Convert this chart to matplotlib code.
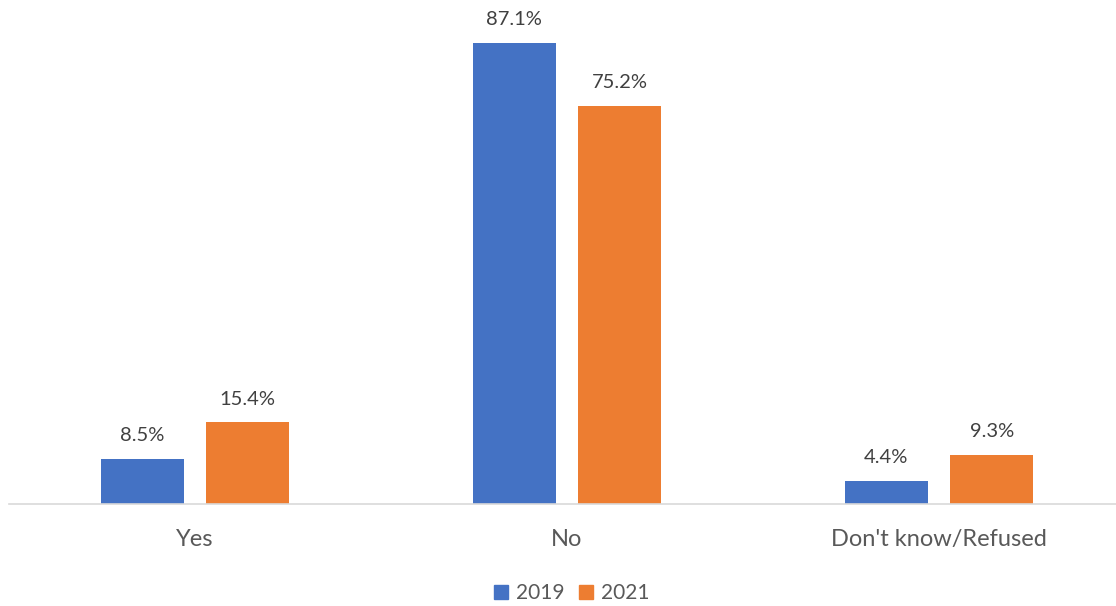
import matplotlib
matplotlib.use("Agg")
import matplotlib.pyplot as plt
from matplotlib.patches import Patch
import numpy as np

categories = ["Yes", "No", "Don't know/Refused"]
series_names = ["2019", "2021"]
values_2019 = [8.5, 87.1, 4.4]
values_2021 = [15.4, 75.2, 9.3]

colors = ["#4472C4", "#ED7D31"]

plt.rcParams['font.family'] = ['Lato', 'DejaVu Sans']

W, H = 1116, 606
fig = plt.figure(figsize=(W / 100, H / 100), dpi=100)
# plot area: three category slots of 372 px starting at x=9, baseline at y=504
ax = fig.add_axes([9 / W, (H - 504) / H, 3 * 372 / W, 504 / H])

x = np.arange(len(categories))
bar_w = 0.223
offset = 0.142
ax.bar(x - offset, values_2019, width=bar_w, color=colors[0], zorder=2)
ax.bar(x + offset, values_2021, width=bar_w, color=colors[1], zorder=2)

for xs, vals in ((x - offset, values_2019), (x + offset, values_2021)):
    for xi, v in zip(xs, vals):
        ax.annotate(f"{v:.1f}%", (xi, v), xytext=(0, 10.5), textcoords="offset points",
                    ha="center", va="bottom", fontsize=14.5, color="#404040")

ax.set_xlim(-0.5, 2.5)
ax.set_ylim(0, 504 / 5.293)

for s in ["top", "right", "left"]:
    ax.spines[s].set_visible(False)
ax.spines["bottom"].set_color("#D9D9D9")
ax.spines["bottom"].set_linewidth(1.2)
ax.set_yticks([])
ax.set_xticks(x)
ax.set_xticklabels(categories, fontsize=17, color="#595959")
ax.tick_params(axis="x", length=0, pad=18)

handles = [Patch(color=c, label=n) for c, n in zip(colors, series_names)]
fig.legend(handles=handles, loc="center", bbox_to_anchor=(572 / W, 1 - 593 / H),
           ncol=2, frameon=False, fontsize=15, handlelength=0.65, handleheight=0.65,
           handletextpad=0.4, columnspacing=0.7, labelcolor="#595959")

fig.savefig("out.png", dpi=100)
